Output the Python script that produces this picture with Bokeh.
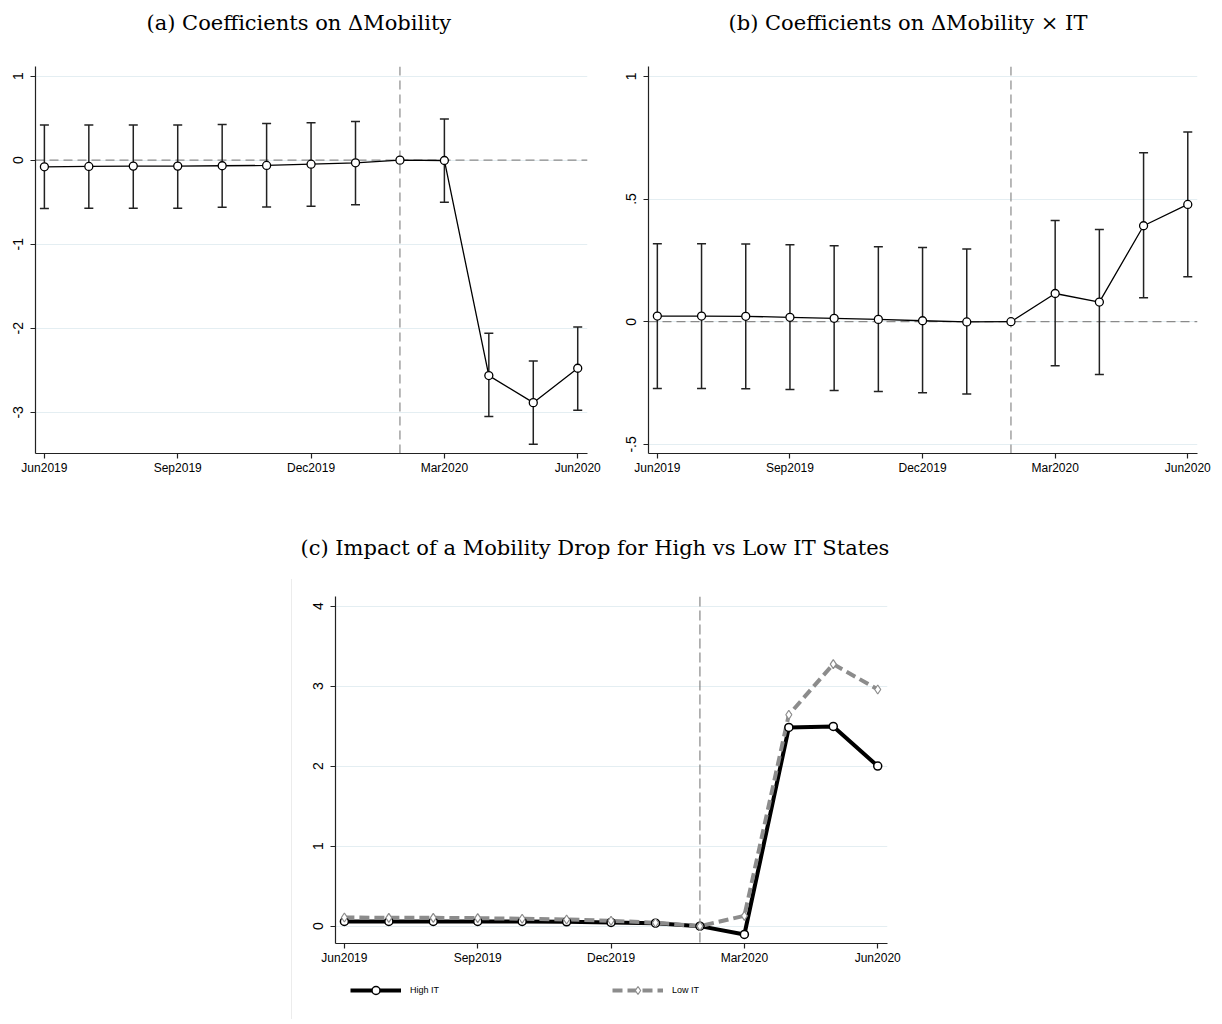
import numpy as np
from bokeh.plotting import figure
from bokeh.models import (ColumnDataSource, Whisker, TeeHead, Span, FixedTicker,
                          Legend, LegendItem, Range1d, Spacer, Div, Title)
from bokeh.layouts import row, column
from bokeh.embed import file_html
from bokeh.resources import INLINE

# ---------------- data ----------------
months = ["Jun2019", "Jul2019", "Aug2019", "Sep2019", "Oct2019", "Nov2019", "Dec2019",
          "Jan2020", "Feb2020", "Mar2020", "Apr2020", "May2020", "Jun2020"]
tick_months = ["Jun2019", "Sep2019", "Dec2019", "Mar2020", "Jun2020"]
ref_month = "Feb2020"

title_a = "(a) Coefficients on \u0394Mobility"
title_b = "(b) Coefficients on \u0394Mobility \u00d7 IT"
title_c = "(c) Impact of a Mobility Drop for High vs Low IT States"

coef_a = [-0.079, -0.075, -0.071, -0.071, -0.067, -0.063, -0.048, -0.032, 0.0, -0.004, -2.563, -2.885, -2.476]
upper_a = [0.417, 0.417, 0.417, 0.417, 0.425, 0.437, 0.444, 0.460, np.nan, 0.490, -2.060, -2.390, -1.984]
lower_a = [-0.575, -0.571, -0.571, -0.571, -0.560, -0.556, -0.548, -0.530, np.nan, -0.500, -3.050, -3.380, -2.976]
yticks_a = [-3, -2, -1, 0, 1]
ylabels_a = ["-3", "-2", "-1", "0", "1"]

coef_b = [0.023, 0.023, 0.022, 0.018, 0.014, 0.0095, 0.004, -0.001, 0.0, 0.115, 0.080, 0.391, 0.478]
upper_b = [0.318, 0.318, 0.317, 0.314, 0.310, 0.306, 0.302, 0.296, np.nan, 0.412, 0.376, 0.689, 0.773]
lower_b = [-0.272, -0.272, -0.273, -0.276, -0.280, -0.284, -0.289, -0.295, np.nan, -0.179, -0.215, 0.098, 0.183]
yticks_b = [-0.5, 0, 0.5, 1]
ylabels_b = ["-.5", "0", ".5", "1"]

high_it = [0.058, 0.058, 0.058, 0.058, 0.058, 0.054, 0.046, 0.0375, 0.0, -0.104, 2.483, 2.496, 2.000]
low_it = [0.108, 0.104, 0.104, 0.100, 0.092, 0.083, 0.067, 0.042, 0.0, 0.129, 2.642, 3.275, 2.958]
yticks_c = [0, 1, 2, 3, 4]
ylabels_c = ["0", "1", "2", "3", "4"]
legend_labels = ["High IT", "Low IT"]

# ---------------- helpers ----------------
xpos = list(range(len(months)))
tick_pos = [months.index(m) for m in tick_months]
ref_pos = months.index(ref_month)

AXIS_COLOR = "#222222"
GRID_COLOR = "#e4eef2"
SANS = "Liberation Sans"
SERIF = "DejaVu Serif"
HIGH_STYLE = dict(line_color="black", line_width=4)
LOW_STYLE = dict(line_color="#8c8c8c", line_width=4, line_dash="10 5")
HIGH_MARK = dict(marker="circle", size=8, fill_color="white", line_color="black", line_width=1.5)
LOW_MARK = dict(marker="diamond", size=9, fill_color="white", line_color="#8c8c8c", line_width=1.2)


def make_fig(frame_w, frame_h, yr, yticks, ylabels, mbl, mbr, mbb):
    p = figure(frame_width=frame_w, frame_height=frame_h,
               x_range=Range1d(-0.2, 12.22), y_range=Range1d(*yr),
               output_backend="svg", toolbar_location=None,
               min_border_left=mbl, min_border_right=mbr,
               min_border_top=0, min_border_bottom=mbb)
    p.outline_line_color = None
    p.background_fill_color = "white"
    p.border_fill_color = "white"
    p.xgrid.visible = False
    p.ygrid.grid_line_color = GRID_COLOR
    p.ygrid.grid_line_width = 1
    p.ygrid.ticker = FixedTicker(ticks=yticks)

    p.xaxis.ticker = FixedTicker(ticks=tick_pos)
    p.xaxis.major_label_overrides = {t: m for t, m in zip(tick_pos, tick_months)}
    p.yaxis.ticker = FixedTicker(ticks=yticks)
    p.yaxis.major_label_overrides = {t: l for t, l in zip(yticks, ylabels)}
    p.yaxis.major_label_orientation = "vertical"
    for ax in (p.xaxis, p.yaxis):
        ax.axis_label = None
        ax.axis_line_color = AXIS_COLOR
        ax.axis_line_width = 1.2
        ax.major_tick_line_color = AXIS_COLOR
        ax.major_tick_line_width = 1.2
        ax.major_tick_in = 0
        ax.major_tick_out = 5
        ax.minor_tick_line_color = None
        ax.major_label_text_font = SANS
        ax.major_label_text_color = "black"
    p.xaxis.major_label_text_font_size = "12px"
    p.yaxis.major_label_text_font_size = "14px"
    p.xaxis.major_label_standoff = 2
    p.yaxis.major_label_standoff = 7
    return p


def add_title(p, text, offset, standoff, gap):
    # spacer panel between the frame and the title (added first -> nearest the frame)
    p.add_layout(Title(text=" ", text_font_size="1px", standoff=gap,
                       text_color="white"), "above")
    p.add_layout(Title(text=text, text_font=SERIF, text_font_size="21px",
                       text_font_style="normal", text_color="black",
                       align="left", offset=offset, standoff=standoff,
                       vertical_align="middle"), "above")


def coef_panel(coef, upper, lower, yr, yticks, ylabels, frame_w, mbl, mbr, title, offset):
    p = make_fig(frame_w, 387, yr, yticks, ylabels, mbl, mbr, 66)
    p.add_layout(Span(location=0, dimension="width", line_color="#8a8a8a",
                      line_width=1.2, line_dash="9 5", level="underlay"))
    p.add_layout(Span(location=ref_pos, dimension="height", line_color="#8a8a8a",
                      line_width=1.2, line_dash="9 5", level="underlay"))
    up = np.array(upper, dtype=float)
    lo = np.array(lower, dtype=float)
    keep = ~np.isnan(up)
    src = ColumnDataSource(dict(x=np.array(xpos)[keep], upper=up[keep], lower=lo[keep]))
    w = Whisker(source=src, base="x", upper="upper", lower="lower",
                line_color="#222222", line_width=1.5, level="underlay",
                upper_head=TeeHead(size=9, line_color="#222222", line_width=1.5),
                lower_head=TeeHead(size=9, line_color="#222222", line_width=1.5))
    p.add_layout(w)
    p.line(xpos, coef, line_color="black", line_width=1.3)
    p.scatter(xpos, coef, marker="circle", size=8, fill_color="white",
              line_color="black", line_width=1.3)
    add_title(p, title, offset, 18, 19)
    return p


fig_a = coef_panel(coef_a, upper_a, lower_a, (-3.49, 1.114), yticks_a, ylabels_a,
                   552, 35, 26, title_a, 111)
fig_b = coef_panel(coef_b, upper_b, lower_b, (-0.537, 1.04), yticks_b, ylabels_b,
                   549, 35, 15, title_b, 80)

# ---------------- panel c ----------------
fig_c = make_fig(552, 347, (-0.217, 4.12), yticks_c, ylabels_c, 43, 30, 37)
fig_c.add_layout(Span(location=ref_pos, dimension="height", line_color="#6e6e6e",
                      line_width=1.0, line_dash="10 4", level="underlay"))
fig_c.line(xpos, high_it, **HIGH_STYLE)
fig_c.line(xpos, low_it, **LOW_STYLE)
fig_c.scatter(xpos, high_it, **HIGH_MARK)
fig_c.scatter(xpos, low_it, **LOW_MARK)
add_title(fig_c, title_c, -35, 30, 18)

# legend strip below panel c: same series, but its view range shows none of them,
# so only the legend keys are visible
leg_fig = figure(width=420, height=22, x_range=Range1d(0, 1), y_range=Range1d(-50, -49),
                 output_backend="svg", toolbar_location=None,
                 x_axis_location=None, y_axis_location=None, min_border=0)
leg_fig.grid.visible = False
leg_fig.outline_line_color = None
k_hl = leg_fig.line(xpos, high_it, **HIGH_STYLE)
k_hs = leg_fig.scatter(xpos, high_it, **HIGH_MARK)
k_ll = leg_fig.line(xpos, low_it, **LOW_STYLE)
k_ls = leg_fig.scatter(xpos, low_it, **LOW_MARK)
legend = Legend(items=[LegendItem(label=legend_labels[0], renderers=[k_hl, k_hs]),
                       LegendItem(label=legend_labels[1], renderers=[k_ll, k_ls])],
                orientation="horizontal", location="top_left",
                glyph_width=51, glyph_height=20, label_height=20,
                label_standoff=9, spacing=173,
                margin=0, padding=0, border_line_color=None,
                background_fill_alpha=0, label_text_color="black",
                label_text_font=SANS, label_text_font_size="9px")
leg_fig.add_layout(legend, "center")

edge = column(Spacer(width=1, height=60),
              Div(text="", width=1, height=440, margin=0,
                  styles={"background-color": "#ececec"}))
panel_c = column(fig_c, row(Spacer(width=58), leg_fig))
bottom = row(Spacer(width=291), edge, panel_c)
layout = column(row(fig_a, fig_b), bottom)

open("out.html", "w").write(file_html(layout, INLINE))
